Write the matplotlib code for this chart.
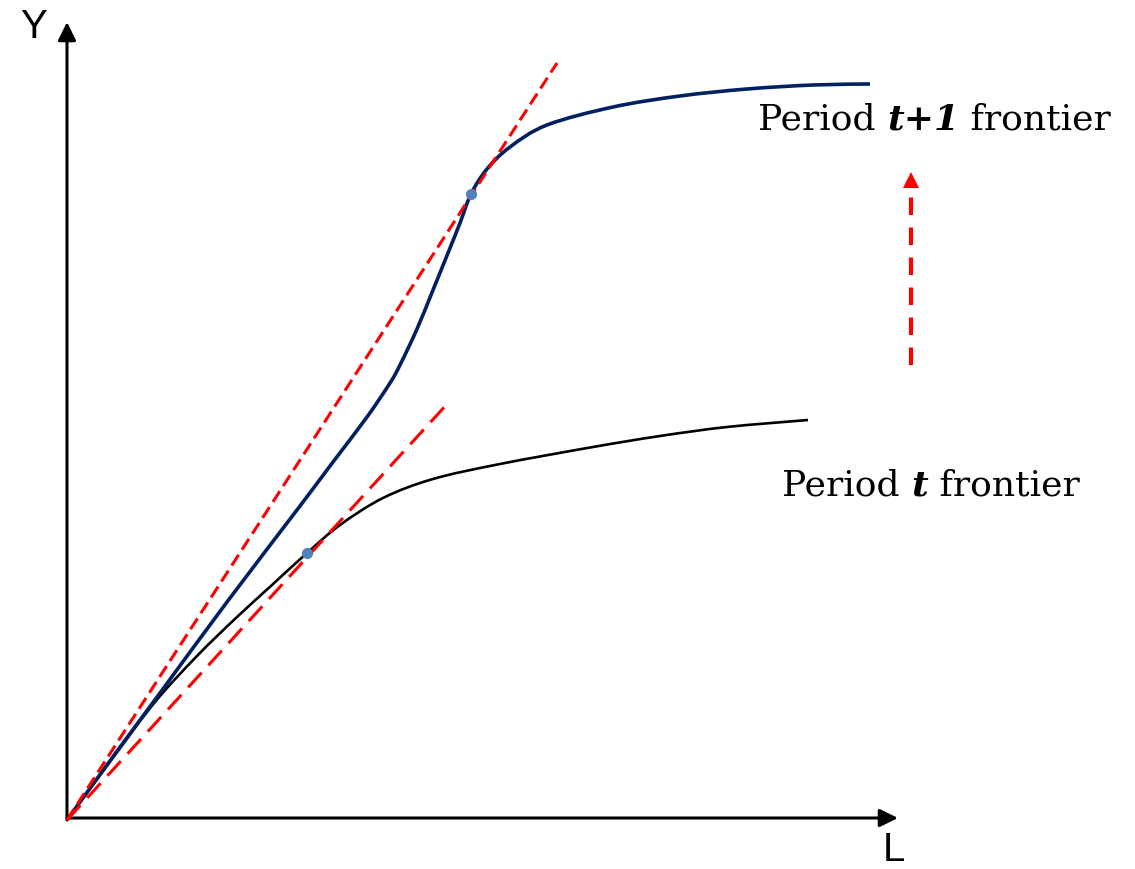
import matplotlib.pyplot as plt
from matplotlib.path import Path
from matplotlib.patches import PathPatch
import numpy as np

## -----------------------------------------------------------------------------
## Production frontier shift: period t vs period t+1
## -----------------------------------------------------------------------------

# frontier curves (L, Y)
L_t = [0, 45, 88, 130, 170, 205, 240, 273, 316, 366, 433, 526, 593, 660, 741]
Y_t = [0, 61, 118, 164, 203, 235, 267, 295, 322, 341, 356, 373, 384, 393, 400]

L_t1 = [0, 45, 93, 160, 233, 266, 300, 323, 333, 350, 366, 381, 393, 404,
        420, 443, 480, 546, 613, 680, 746, 803]
Y_t1 = [0, 62, 127, 218, 314, 358, 403, 437, 455, 491, 530, 567, 597, 626,
        651, 673, 695, 713, 724, 731, 735, 736]

# tangency points
tang_L = [240, 404]
tang_Y = [267, 626]

# rays from the origin (end points)
ray1 = ([0, 490], [0, 757])
ray2 = ([0, 381], [0, 417])

# shift arrow
shift_L = [844, 844]
shift_Y = [455, 640]

colors = ["#000000", "#002060", "#ff0000", "#4f81bd"]


def smooth_path(xs, ys):
    # Catmull-Rom through the read points, drawn as cubic Bezier segments
    p = np.column_stack([xs, ys]).astype(float)
    p = np.vstack([p[0], p, p[-1]])
    verts = [p[1]]
    codes = [Path.MOVETO]
    for i in range(1, len(p) - 2):
        c1 = p[i] + (p[i + 1] - p[i - 1]) / 6
        c2 = p[i + 1] - (p[i + 2] - p[i]) / 6
        verts += [c1, c2, p[i + 1]]
        codes += [Path.CURVE4] * 3
    return Path(verts, codes)


fig = plt.figure(figsize=(11.35, 8.69), dpi=100)
ax = fig.add_axes([0, 0, 1, 1])
ax.set_xlim(-67, 1068)
ax.set_ylim(-49, 820)
ax.axis("off")

# axes with arrows
head = "-|>,head_length=0.55,head_width=0.27"
ax.annotate("", xy=(0, 798), xytext=(0, 0),
            arrowprops=dict(arrowstyle=head, mutation_scale=20, lw=2.2,
                            color="black", shrinkA=0, shrinkB=0))
ax.annotate("", xy=(831, 2), xytext=(0, 2),
            arrowprops=dict(arrowstyle=head, mutation_scale=20, lw=2.2,
                            color="black", shrinkA=0, shrinkB=0))

# rays
ax.plot(ray1[0], ray1[1], color=colors[2], lw=2.2, dashes=(4.2, 2.0), zorder=3)
ax.plot(ray2[0], ray2[1], color=colors[2], lw=2.2, dashes=(6.5, 3.3), zorder=3)

# frontiers
ax.add_patch(PathPatch(smooth_path(L_t, Y_t), fill=False, ec=colors[0],
                       lw=1.9, zorder=2))
ax.add_patch(PathPatch(smooth_path(L_t1, Y_t1), fill=False, ec=colors[1],
                       lw=2.6, zorder=2))
ax.plot(tang_L, tang_Y, "o", color=colors[3], ms=7, zorder=4)

# shift arrow
ax.plot(shift_L, [shift_Y[0], shift_Y[1] - 8], color=colors[2], lw=3,
        dashes=(4.2, 3.0))
ax.plot([shift_L[1]], [shift_Y[1]], marker="^", color=colors[2], ms=12,
        markeredgewidth=0)

# axis labels
ax.text(-33, 782, "Y", fontsize=29, family="Liberation Sans", ha="center",
        va="baseline")
ax.text(816, -49, "L", fontsize=29, family="Liberation Sans", ha="left",
        va="bottom")


# frontier labels
def label(x, y, parts):
    t = ax.text(x, y, parts[0][0], fontsize=26, family="DejaVu Serif",
                style=parts[0][1], weight=parts[0][2], va="baseline")
    for s, st, w in parts[1:]:
        t = ax.annotate(s, xycoords=t, xy=(1, 0), va="bottom", fontsize=26,
                        family="DejaVu Serif", style=st, weight=w)


label(691, 690, [("Period ", "normal", "normal"), ("t+1", "italic", "bold"),
                 (" frontier", "normal", "normal")])
label(715, 325, [("Period ", "normal", "normal"), ("t", "italic", "bold"),
                 (" frontier", "normal", "normal")])

plt.savefig("out.png", dpi=100)
